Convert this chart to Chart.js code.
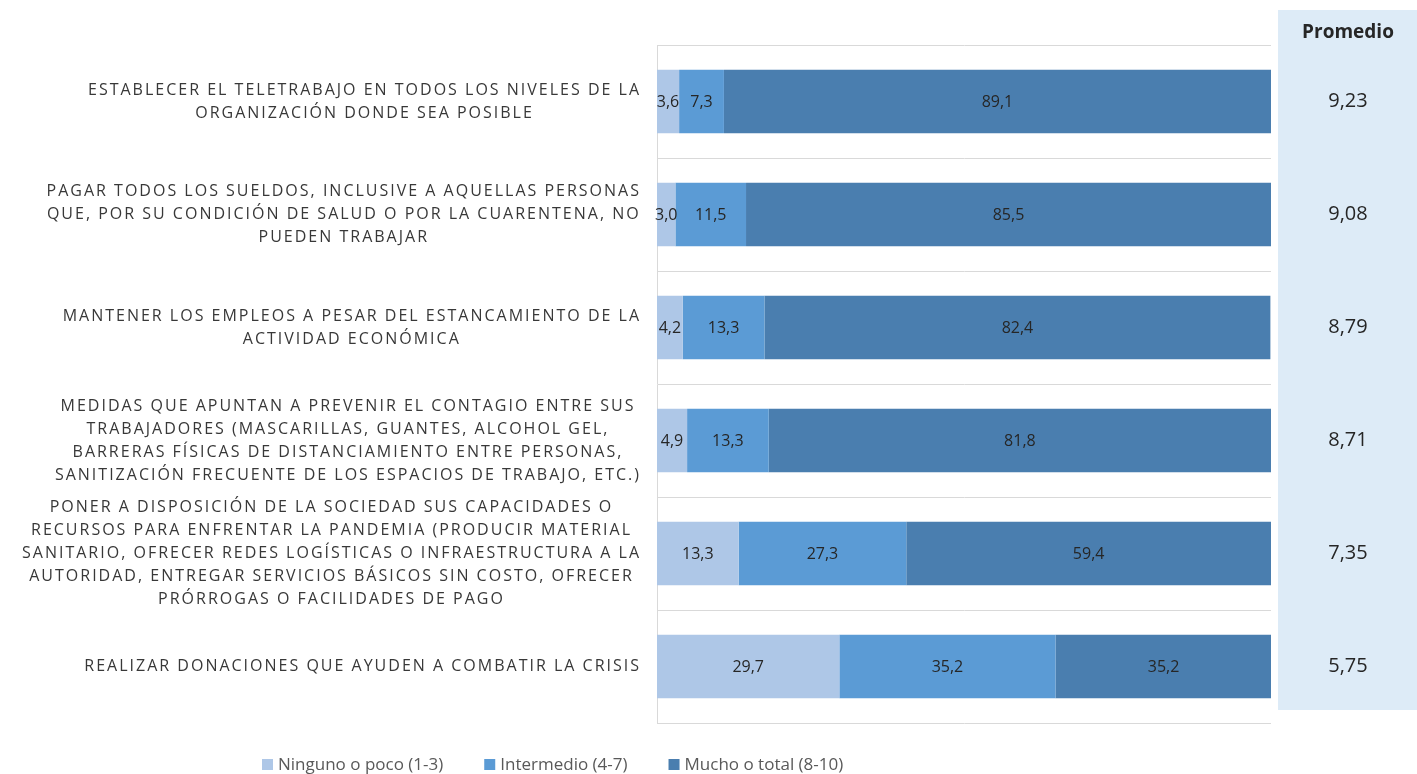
<!DOCTYPE html>
<html>
<head>
<meta charset="utf-8">
<script src="https://cdn.jsdelivr.net/npm/chart.js@4"></script>
<style>
  html, body { margin: 0; padding: 0; background: #fff; }
  #wrap { width: 1417px; height: 774px; }
</style>
</head>
<body>
<div id="wrap"><canvas id="chart"></canvas></div>
<script>
const categories = [
  ['ESTABLECER EL TELETRABAJO EN TODOS LOS NIVELES DE LA', 'ORGANIZACIÓN DONDE SEA POSIBLE'],
  ['PAGAR TODOS LOS SUELDOS, INCLUSIVE A AQUELLAS PERSONAS', 'QUE, POR SU CONDICIÓN DE SALUD O POR LA CUARENTENA, NO', 'PUEDEN TRABAJAR'],
  ['MANTENER LOS EMPLEOS A PESAR DEL ESTANCAMIENTO DE LA', 'ACTIVIDAD ECONÓMICA'],
  ['MEDIDAS QUE APUNTAN A PREVENIR EL CONTAGIO ENTRE SUS', 'TRABAJADORES (MASCARILLAS, GUANTES, ALCOHOL GEL,', 'BARRERAS FÍSICAS DE DISTANCIAMIENTO ENTRE PERSONAS,', 'SANITIZACIÓN FRECUENTE DE LOS ESPACIOS DE TRABAJO, ETC.)'],
  ['PONER A DISPOSICIÓN DE LA SOCIEDAD SUS CAPACIDADES O', 'RECURSOS PARA ENFRENTAR LA PANDEMIA (PRODUCIR MATERIAL', 'SANITARIO, OFRECER REDES LOGÍSTICAS O INFRAESTRUCTURA A LA', 'AUTORIDAD, ENTREGAR SERVICIOS BÁSICOS SIN COSTO, OFRECER', 'PRÓRROGAS O FACILIDADES DE PAGO'],
  ['REALIZAR DONACIONES QUE AYUDEN A COMBATIR LA CRISIS']
];
const ninguno = [3.6, 3.0, 4.2, 4.9, 13.3, 29.7];
const intermedio = [7.3, 11.5, 13.3, 13.3, 27.3, 35.2];
const mucho = [89.1, 85.5, 82.4, 81.8, 59.4, 35.2];
const promedio = [9.23, 9.08, 8.79, 8.71, 7.35, 5.75];
const seriesNames = ['Ninguno o poco (1-3)', 'Intermedio (4-7)', 'Mucho o total (8-10)'];

const colors = ['#aec7e7', '#5b9bd5', '#4a7eaf'];
const fontName = '"Open Sans", sans-serif';

function fmt(v, d) {
    return v.toFixed(d).replace('.', ',');
}

// category labels: each block centred on itself, blocks right aligned (like Excel wrap)
const catLabels = {
    id: 'catLabels',
    afterDraw(chart) {
        const ctx = chart.ctx;
        const y = chart.scales.y;
        ctx.save();
        ctx.font = '16px ' + fontName;
        ctx.letterSpacing = '2px';
        ctx.fillStyle = '#383838';
        ctx.textAlign = 'center';
        ctx.textBaseline = 'middle';
        const lh = 23;
        categories.forEach((lines, i) => {
            const cy = y.getPixelForTick(i);
            let w = 0;
            lines.forEach(l => { w = Math.max(w, ctx.measureText(l).width); });
            const cx = 641 - w / 2;
            const top = cy - (lines.length - 1) * lh / 2;
            lines.forEach((l, k) => ctx.fillText(l, cx, top + k * lh));
        });
        ctx.restore();
    }
};

const barValues = {
    id: 'barValues',
    afterDatasetsDraw(chart) {
        const ctx = chart.ctx;
        ctx.save();
        ctx.font = '16px ' + fontName;
        ctx.fillStyle = '#262626';
        ctx.textAlign = 'center';
        ctx.textBaseline = 'middle';
        chart.data.datasets.forEach((ds, di) => {
            chart.getDatasetMeta(di).data.forEach((bar, i) => {
                ctx.fillText(fmt(ds.data[i], 1), (bar.x + bar.base) / 2, bar.y + 1);
            });
        });
        ctx.restore();
    }
};

const promedioCol = {
    id: 'promedioCol',
    beforeDraw(chart) {
        const ctx = chart.ctx;
        ctx.save();
        ctx.fillStyle = '#ddebf7';
        ctx.fillRect(1278, 10, 139, 700);
        ctx.restore();
    },
    afterDraw(chart) {
        const ctx = chart.ctx;
        const y = chart.scales.y;
        ctx.save();
        ctx.textAlign = 'center';
        ctx.textBaseline = 'middle';
        ctx.fillStyle = '#262626';
        ctx.font = 'bold 19px ' + fontName;
        ctx.fillText('Promedio', 1348, 33);
        ctx.font = '20px ' + fontName;
        promedio.forEach((v, i) => ctx.fillText(fmt(v, 2), 1348, y.getPixelForTick(i)));
        ctx.restore();
    }
};

const bottomLegend = {
    id: 'bottomLegend',
    afterDraw(chart) {
        const ctx = chart.ctx;
        ctx.save();
        ctx.font = '17px ' + fontName;
        ctx.textBaseline = 'middle';
        ctx.textAlign = 'left';
        let x = 262;
        const cy = 765;
        chart.data.datasets.forEach(ds => {
            ctx.fillStyle = ds.backgroundColor;
            ctx.fillRect(x, cy - 6, 11, 11);
            ctx.fillStyle = '#595959';
            ctx.fillText(ds.label, x + 16, cy);
            x += 16 + ctx.measureText(ds.label).width + 41;
        });
        ctx.restore();
    }
};

const ctx = document.getElementById('chart').getContext('2d');
new Chart(ctx, {
    type: 'bar',
    data: {
        labels: categories,
        datasets: [
            { label: seriesNames[0], data: ninguno, backgroundColor: colors[0] },
            { label: seriesNames[1], data: intermedio, backgroundColor: colors[1] },
            { label: seriesNames[2], data: mucho, backgroundColor: colors[2] }
        ]
    },
    options: {
        indexAxis: 'y',
        responsive: true,
        maintainAspectRatio: false,
        animation: false,
        layout: { padding: { top: 45, right: 146, bottom: 51, left: 0 } },
        datasets: { bar: { categoryPercentage: 1, barPercentage: 0.56 } },
        scales: {
            x: {
                display: false,
                stacked: true,
                min: 0,
                max: 100
            },
            y: {
                stacked: true,
                ticks: { display: false },
                grid: { color: '#d9d9d9', offset: true, drawTicks: false },
                border: { color: '#d9d9d9' },
                afterFit(scale) { scale.width = 657; }
            }
        },
        plugins: {
            legend: { display: false },
            tooltip: { enabled: false }
        }
    },
    plugins: [promedioCol, barValues, catLabels, bottomLegend]
});
</script>
</body>
</html>
